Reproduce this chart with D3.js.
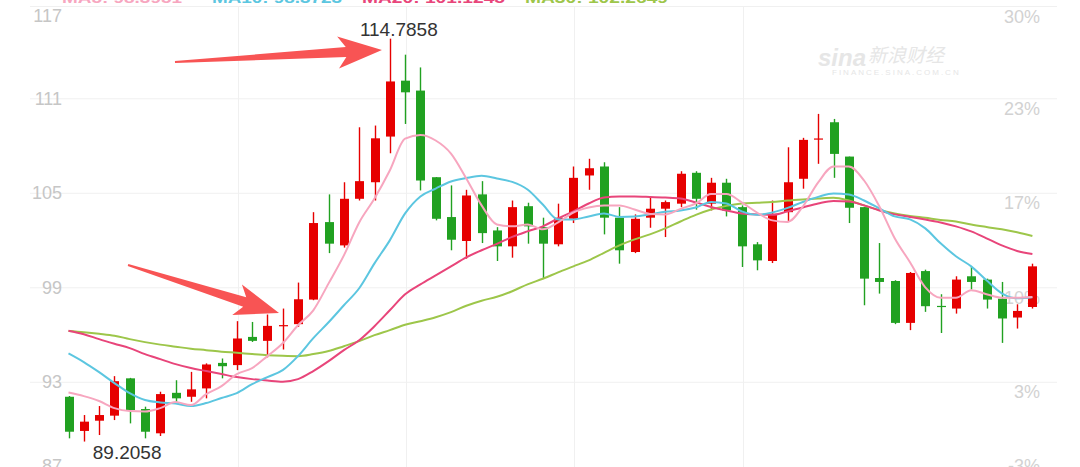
<!DOCTYPE html>
<html>
<head>
<meta charset="utf-8">
<script src="https://cdn.jsdelivr.net/npm/d3@7"></script>
<style>
  body { margin: 0; background: #fff; }
  svg { display: block; }
</style>
</head>
<body>
<div id="chart"></div>
<script>
// daily candles
var openP  = [92.05, 89.88, 90.53, 90.85, 93.22, 91.27, 89.73, 92.30, 92.05, 92.58,
              94.20, 94.06, 95.85, 95.60, 96.55, 96.66, 98.22, 103.14, 101.66, 104.62,
              105.67, 108.57, 112.12, 111.49, 105.99, 103.46, 101.94, 104.90, 102.61, 101.60,
              104.15, 102.82, 101.73, 103.35, 106.10, 106.67, 103.42, 101.24, 103.42, 103.99,
              104.31, 106.27, 104.31, 105.64, 104.09, 101.73, 100.67, 103.77, 105.89, 108.40,
              109.48, 107.30, 104.09, 99.59, 99.40, 96.74, 100.03, 97.82, 97.65, 99.70,
              99.49, 98.28, 97.08, 97.75];
var highP  = [92.10, 90.89, 91.46, 93.36, 93.25, 91.42, 92.37, 93.10, 93.63, 94.17,
              94.48, 96.85, 96.80, 97.27, 97.65, 99.30, 103.77, 104.90, 105.67, 109.16,
              109.27, 114.7858, 113.77, 112.96, 106.00, 105.47, 105.19, 105.74, 102.82, 104.51,
              104.37, 103.42, 104.31, 106.67, 107.16, 106.94, 104.09, 103.63, 104.77, 104.51,
              106.37, 106.37, 105.95, 105.89, 104.20, 101.87, 104.51, 107.89, 108.49, 110.01,
              109.69, 107.30, 104.10, 101.81, 99.45, 99.97, 100.12, 98.56, 99.70, 100.29,
              99.55, 99.34, 97.92, 100.50];
var lowP   = [89.41, 89.2058, 89.62, 90.57, 90.36, 89.41, 89.56, 91.67, 91.73, 91.95,
              93.22, 93.74, 95.53, 94.55, 95.05, 96.49, 98.18, 101.17, 101.52, 104.51,
              104.51, 107.51, 109.37, 105.15, 103.25, 101.35, 100.82, 101.81, 100.67, 100.88,
              101.77, 99.55, 101.60, 103.08, 105.19, 102.36, 100.50, 101.17, 102.78, 102.19,
              104.09, 103.93, 103.88, 103.50, 100.29, 100.08, 100.54, 103.14, 105.26, 106.84,
              105.95, 103.08, 97.86, 98.60, 96.66, 96.28, 97.44, 96.10, 97.33, 98.86,
              97.65, 95.47, 96.38, 97.65];
var closeP = [89.83, 90.47, 90.89, 93.04, 91.21, 89.83, 92.22, 91.95, 92.52, 94.10,
              93.99, 95.75, 95.60, 96.55, 96.60, 98.24, 103.08, 101.77, 104.62, 105.74,
              108.46, 112.07, 111.38, 105.78, 103.35, 102.02, 104.83, 102.44, 101.60, 104.09,
              102.87, 101.77, 103.42, 105.95, 106.56, 103.42, 101.35, 103.35, 103.99, 104.41,
              106.21, 104.62, 105.64, 103.88, 101.60, 100.71, 103.67, 105.67, 108.36, 108.45,
              107.47, 104.05, 99.55, 99.34, 96.74, 99.91, 97.80, 97.78, 99.49, 99.34,
              98.22, 97.02, 97.50, 100.33];

// moving averages as drawn
var ma5  = [92.32, 92.09, 91.78, 91.33, 91.14, 91.11, 91.33, 91.71, 91.52, 92.22,
            92.73, 93.49, 93.87, 94.63, 95.45, 96.59, 97.54, 99.25, 101.03, 103.12,
            104.64, 106.42, 108.44, 108.67, 108.32, 107.49, 105.91, 104.20, 102.99, 102.87,
            102.99, 102.68, 103.12, 103.75, 104.07, 104.20, 104.20, 103.94, 103.66, 103.63,
            103.98, 104.32, 104.92, 104.92, 104.39, 103.75, 103.25, 103.15, 104.13, 105.66,
            106.67, 106.67, 105.78, 104.13, 102.11, 100.59, 99.00, 98.34, 98.34, 98.81,
            98.56, 98.34, 98.34, 98.39];
var ma10 = [94.80, 94.25, 93.61, 92.92, 92.28, 91.84, 91.69, 91.62, 91.46, 91.65,
            91.97, 92.28, 92.85, 93.30, 93.74, 94.63, 95.77, 96.78, 97.86, 98.94,
            100.52, 101.98, 103.69, 104.77, 105.27, 105.72, 105.94, 106.08, 105.91, 105.69,
            105.21, 104.26, 103.31, 103.31, 103.50, 103.69, 103.47, 103.50, 103.63, 103.79,
            103.88, 104.07, 104.42, 104.32, 103.82, 103.60, 103.75, 104.04, 104.42, 104.74,
            104.96, 104.89, 104.51, 104.01, 103.50, 103.31, 102.74, 101.79, 100.97, 100.33,
            99.44, 98.62, 98.30, 98.37];
var ma20 = [96.24, 96.02, 95.71, 95.42, 95.14, 94.76, 94.44, 94.12, 93.87, 93.68,
            93.49, 93.30, 93.17, 93.08, 93.01, 93.17, 93.68, 94.31, 95.01, 95.64,
            96.53, 97.54, 98.56, 99.19, 99.76, 100.33, 100.90, 101.35, 101.76, 102.20,
            102.55, 102.87, 103.37, 103.82, 104.32, 104.70, 104.77, 104.77, 104.74, 104.70,
            104.64, 104.39, 104.10, 103.88, 103.69, 103.63, 103.60, 103.82, 104.07, 104.32,
            104.48, 104.45, 104.20, 103.88, 103.63, 103.47, 103.31, 103.12, 102.87, 102.55,
            102.11, 101.66, 101.31, 101.12];
var ma30 = [96.23, 96.15, 96.05, 95.93, 95.71, 95.52, 95.36, 95.23, 95.10, 95.01,
            94.91, 94.84, 94.76, 94.69, 94.65, 94.63, 94.76, 94.95, 95.26, 95.58,
            95.96, 96.28, 96.62, 96.85, 97.10, 97.42, 97.83, 98.15, 98.40, 98.75,
            99.19, 99.54, 99.95, 100.33, 100.71, 101.19, 101.66, 102.04, 102.36, 102.74,
            103.18, 103.60, 103.94, 104.17, 104.32, 104.37, 104.42, 104.51, 104.58, 104.64,
            104.69, 104.51, 104.20, 103.91, 103.69, 103.53, 103.41, 103.28, 103.18, 102.99,
            102.83, 102.68, 102.49, 102.26];

var maNames  = ["MA5", "MA10", "MA20", "MA30"];
var maColors = ["#f7a6bf", "#5cc6e0", "#e8457a", "#9dc64a"];
var legendValues = ["98.3951", "98.3723", "101.1245", "102.2649"];

var yTicks = [87, 93, 99, 105, 111, 117];
var basePrice = 90;            // right axis is % change against this
var monthBreaks = [11, 22, 33, 44];

var w = 1080, h = 467;

var svg = d3.select("#chart").append("svg")
  .attr("width", w)
  .attr("height", h)
  .style("font-family", "'Liberation Sans', Arial, sans-serif");

var x = d3.scaleLinear().domain([0, openP.length - 1]).range([68.5, 1032.4]);
var y = d3.scaleLinear().domain([87, 117]).range([476.3, 3.8]);

// grid (top line is the frame edge)
svg.append("g").selectAll("line")
  .data(yTicks)
  .enter().append("line")
  .attr("x1", 30).attr("x2", 1057)
  .attr("y1", function(d) { return Math.max(y(d), 6) + 0.5; })
  .attr("y2", function(d) { return Math.max(y(d), 6) + 0.5; })
  .attr("stroke", "#f0f0f0");

svg.append("g").selectAll("line")
  .data(monthBreaks)
  .enter().append("line")
  .attr("x1", function(d) { return Math.round(x(d)) + 1.5; })
  .attr("x2", function(d) { return Math.round(x(d)) + 1.5; })
  .attr("y1", 6).attr("y2", h)
  .attr("stroke", "#f0f0f0");

// axis labels sit inside the plot
svg.append("g").selectAll("text")
  .data(yTicks)
  .enter().append("text")
  .attr("x", 62)
  .attr("y", function(d) { return Math.min(Math.max(y(d), 16), 466); })
  .attr("dy", "0.35em")
  .attr("text-anchor", "end")
  .attr("font-size", 18)
  .attr("fill", "#c6c6c6")
  .text(function(d) { return d; });

svg.append("g").selectAll("text")
  .data(yTicks)
  .enter().append("text")
  .attr("x", 1040)
  .attr("y", function(d) { return Math.min(Math.max(y(d) + 10, 17), 466); })
  .attr("dy", "0.35em")
  .attr("text-anchor", "end")
  .attr("font-size", 18)
  .attr("fill", "#d2d2d2")
  .text(function(d) { return Math.round((d / basePrice - 1) * 100) + "%"; });

// watermark
var wm = svg.append("g").attr("fill", "#e6e6e6");
wm.append("text").attr("x", 818).attr("y", 66)
  .attr("font-size", 24).attr("font-weight", "bold").attr("font-style", "italic")
  .text("sina");
wm.append("text").attr("x", 868).attr("y", 62)
  .attr("font-size", 19).attr("font-style", "italic")
  .attr("font-family", "'Noto Sans CJK SC', sans-serif")
  .text("新浪财经");
wm.append("text").attr("x", 832).attr("y", 75)
  .attr("font-size", 8).attr("letter-spacing", 2)
  .text("FINANCE.SINA.COM.CN");

// legend, cut by the top edge
var legendX = [62, 212, 362, 525], legendW = [120, 130, 143, 143];
svg.append("g").selectAll("text")
  .data(maNames)
  .enter().append("text")
  .attr("x", function(d, i) { return legendX[i]; })
  .attr("y", 2.5)
  .attr("font-size", 15)
  .attr("font-weight", "bold")
  .attr("fill", function(d, i) { return maColors[i]; })
  .attr("textLength", function(d, i) { return legendW[i]; })
  .attr("lengthAdjust", "spacingAndGlyphs")
  .text(function(d, i) { return d + ": " + legendValues[i]; });

// candles
var idx = d3.range(openP.length);
var up = function(i) { return closeP[i] >= openP[i]; };
var red = "#e60000", green = "#21a121";

var candle = svg.append("g").selectAll("g")
  .data(idx)
  .enter().append("g");

candle.append("line")
  .attr("x1", function(i) { return Math.round(x(i)) + 0.5; })
  .attr("x2", function(i) { return Math.round(x(i)) + 0.5; })
  .attr("y1", function(i) { return y(highP[i]); })
  .attr("y2", function(i) { return y(lowP[i]); })
  .attr("stroke", function(i) { return up(i) ? red : green; })
  .attr("stroke-width", 1.4);

candle.append("rect")
  .attr("x", function(i) { return Math.round(x(i)) + 0.5 - 4.5; })
  .attr("width", 9)
  .attr("y", function(i) { return y(Math.max(openP[i], closeP[i])); })
  .attr("height", function(i) {
    return Math.max(1.2, Math.abs(y(openP[i]) - y(closeP[i])));
  })
  .attr("fill", function(i) { return up(i) ? red : green; });

// moving average lines
var maSeries = [ma5, ma10, ma20, ma30];
var line = d3.line()
  .x(function(d, i) { return x(i); })
  .y(function(d) { return y(d); })
  .curve(d3.curveMonotoneX);

svg.append("g").selectAll("path")
  .data([3, 2, 1, 0])
  .enter().append("path")
  .attr("d", function(k) { return line(maSeries[k]); })
  .attr("fill", "none")
  .attr("stroke", function(k) { return maColors[k]; })
  .attr("stroke-width", 2);

// high / low marks
var hiIdx = d3.maxIndex(highP), loIdx = d3.minIndex(lowP);
svg.append("text")
  .attr("x", x(hiIdx) + 9)
  .attr("y", y(highP[hiIdx]) - 3)
  .attr("text-anchor", "middle")
  .attr("font-size", 19)
  .attr("fill", "#333")
  .text(highP[hiIdx].toFixed(4));
svg.append("text")
  .attr("x", x(loIdx) + 9)
  .attr("y", y(lowP[loIdx]) + 17.5)
  .attr("font-size", 19)
  .attr("fill", "#333")
  .text(lowP[loIdx].toFixed(4));

// red pointer arrows (index, price)
var arrows = [
  { tail: [6.96, 113.3], tip: [20.49, 114.07] },
  { tail: [3.89, 100.42], tip: [13.76, 97.37] }
];

function arrowPath(a) {
  var t = [x(a.tail[0]), y(a.tail[1])], p = [x(a.tip[0]), y(a.tip[1])];
  var dx = p[0] - t[0], dy = p[1] - t[1], L = Math.hypot(dx, dy);
  var ux = dx / L, uy = dy / L, nx = -uy, ny = ux;
  function pt(a, b) { return [t[0] + ux * a + nx * b, t[1] + uy * a + ny * b]; }
  return d3.line()([pt(0, -1), pt(L - 36, -5), pt(L - 44, -16), pt(L, 0),
                    pt(L - 44, 16), pt(L - 36, 5), pt(0, 1)]) + "Z";
}

svg.append("g").selectAll("path")
  .data(arrows)
  .enter().append("path")
  .attr("d", arrowPath)
  .attr("fill", "#f85454");
</script>
</body>
</html>
